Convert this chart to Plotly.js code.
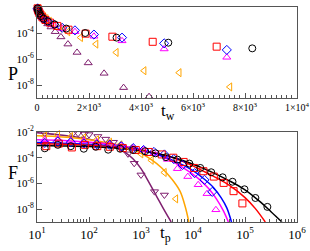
<!DOCTYPE html>
<html>
<head>
<meta charset="utf-8">
<script src="https://cdn.plot.ly/plotly-3.0.1.min.js"></script>
<style>html,body{margin:0;padding:0;background:#fff;}#c{width:310px;height:251px;}</style>
</head>
<body>
<div id="c"></div>
<script>
// ---------- top panel: P vs t_w ----------
const twBlack = [20,34,56,92,152,250,413,681,1124,1855,3060,5050,8280];
const pBlack  = [7.9e-3,6.3e-3,4.5e-3,3.2e-3,2.0e-3,1.26e-3,7.9e-4,4.5e-4,2.2e-4,1.0e-4,4.4e-5,1.8e-5,6.6e-6];
const twRed = [23,36,56,87,135,210,325,500,780,1210,1870,2900,4450,6910];
const pRed  = [7.9e-3,6.3e-3,5.0e-3,3.5e-3,2.5e-3,1.6e-3,1.0e-3,6.3e-4,3.5e-4,1.8e-4,8.9e-5,5.2e-5,2.1e-5,8.9e-6];
const twBlue = [25,38,57,85,128,190,290,430,650,970,1460,2190,3270,4890,7300];
const pBlue  = [7.9e-3,6.3e-3,5.0e-3,3.5e-3,2.5e-3,1.8e-3,1.1e-3,7.9e-4,4.5e-4,2.5e-4,1.6e-4,7.6e-5,4.4e-5,1.6e-5,5.0e-6];
const twMag = [25,38,57,85,128,190,290,430,650,970,1460,2190,3270,4890,7300];
const pMag  = [8.9e-3,7.1e-3,5.0e-3,3.5e-3,2.5e-3,1.6e-3,1.1e-3,7.1e-4,4.0e-4,2.2e-4,1.26e-4,5.6e-5,2.5e-5,5.9e-6,1.35e-6];
const twOrange = [40,55,75,100,140,190,260,355,480,650,880,1190,1680,2270,3050,4120,5470,7420];
const pOrange  = [7.9e-3,7.1e-3,5.6e-3,4.5e-3,3.5e-3,2.5e-3,1.8e-3,1.26e-3,7.9e-4,4.5e-4,2.5e-4,1.26e-4,4.5e-5,1.4e-5,3.2e-6,1.26e-7,8.9e-8,7.1e-9];
const twPurple = [15,50,65,85,110,145,190,245,320,415,540,700,920,1190,1540,1970,2580,3330,4310];
const pPurple  = [1.0e-2,7.9e-3,7.1e-3,5.6e-3,4.5e-3,3.2e-3,2.2e-3,1.4e-3,8.9e-4,5.0e-4,2.9e-4,1.26e-4,5.0e-5,1.4e-5,3.2e-6,5.0e-7,7.9e-8,6.3e-9,1.26e-9];

// ---------- bottom panel: F vs t_p (data) ----------
const tpBlack = [14.1,25.1,44.7,79.4,135,234,398,708,1202,1905,3020,5012,8511,13800,22390,37150,57540,97720,158500,269200];
const fBlack  = [5.4e-4,1.0e-3,7.9e-4,5.0e-4,7.1e-4,4.2e-4,5.0e-4,4.0e-4,3.2e-4,2.2e-4,1.1e-4,7.1e-5,3.5e-5,1.6e-5,7.4e-6,3.0e-6,1.35e-6,3.5e-7,7.4e-8,1.5e-8];
const tpRed = [15.1,26.3,46.8,83.2,144.5,251,447,794,1413,2512,4169,6607,10470,15850,25120,38900,60260,89130];
const fRed  = [7.9e-4,1.26e-3,6.3e-4,1.0e-3,7.9e-4,7.1e-4,5.6e-4,4.0e-4,2.8e-4,1.8e-4,1.0e-4,4.7e-5,1.6e-5,8.9e-6,3.4e-6,1.1e-6,2.5e-7,2.8e-8];
const tpBlue = [14.1,25.1,44.7,79.4,141,251,417,708,1122,1778,2818,4266,6310,10720,16600,23440];
const fBlue  = [1.4e-3,1.8e-3,1.6e-3,1.26e-3,1.1e-3,1.0e-3,7.9e-4,5.6e-4,4.0e-4,2.8e-4,1.8e-4,7.9e-5,2.7e-5,6.3e-6,1.9e-6,2.2e-7];
const tpMag = [14.1,25.1,44.7,79.4,141,251,417,708,1122,1778,3236,5012,7943,12590,18620,27540];
const fMag  = [2.5e-3,2.8e-3,2.2e-3,2.0e-3,1.6e-3,1.1e-3,8.9e-4,5.6e-4,4.0e-4,2.2e-4,7.4e-5,1.4e-5,3.4e-6,7.9e-7,1.6e-7,8.9e-9];
const tpOrange = [14.1,25.1,44.7,79.4,141,251,398,631,1000,1585,2818,4677];
const fOrange  = [5.0e-3,6.3e-3,4.5e-3,3.5e-3,2.5e-3,1.6e-3,1.0e-3,5.0e-4,2.0e-4,6.3e-5,7.1e-6,6.3e-8];
const tpPurple = [14.1,25.1,49,61.7,81.3,100,148,209,295,417,562,741,1000,1820,2818];
const fPurple  = [7.9e-3,1.0e-2,7.9e-3,7.9e-3,7.1e-3,6.3e-3,4.5e-3,2.8e-3,1.6e-3,7.9e-4,2.0e-4,3.7e-5,4.6e-6,2.3e-7,1.26e-7];

// ---------- bottom panel: fitted curves ----------
const fitTBlack = [10,31.6,100,316,1000,3162,7943,19950,50120,100000,199500,316200,512900];
const fitFBlack = [8.9e-4,8.3e-4,7.4e-4,5.6e-4,3.5e-4,1.4e-4,4.5e-5,1.0e-5,1.6e-6,3.2e-7,3.5e-8,6.3e-9,1.0e-9];
const fitTRed = [10,31.6,100,316,1000,3162,7943,19950,50120,100000,158500,245500];
const fitFRed = [1.2e-3,1.1e-3,9.3e-4,6.8e-4,3.8e-4,1.4e-4,3.5e-5,5.6e-6,7.1e-7,7.9e-8,1.1e-8,1.0e-9];
const fitTBlue = [10,100,316,1000,2512,6310,10000,16600,25120,34670,44670,54950];
const fitFBlue = [1.5e-3,1.1e-3,7.9e-4,4.0e-4,1.4e-4,2.8e-5,1.0e-5,2.1e-6,4.5e-7,7.9e-8,1.26e-8,1.0e-9];
const fitTMag = [10,31.6,100,316,1000,2512,6310,12590,19950,28180,38020,47860];
const fitFMag = [2.5e-3,2.2e-3,1.6e-3,1.0e-3,4.5e-4,1.26e-4,1.8e-5,2.5e-6,4.0e-7,6.3e-8,7.9e-9,1.0e-9];
const fitTOrange = [10,31.6,100,316,631,1000,1585,2512,3981,5623,7079,8318];
const fitFOrange = [5.0e-3,4.0e-3,2.5e-3,1.1e-3,5.0e-4,2.2e-4,7.1e-5,1.6e-5,2.0e-6,2.5e-7,1.6e-8,1.0e-9];
const fitTPurple = [10,31.6,100,200,316,501,708,1000,1413,1995,2818,3802];
const fitFPurple = [8.9e-3,5.6e-3,2.8e-3,1.26e-3,6.3e-4,2.5e-4,7.9e-5,1.4e-5,1.26e-6,1.0e-7,7.9e-9,1.0e-9];

// tick labels
const topXTickVals = [0,2000,4000,6000,8000,10000];
const topXTickText = ['0','2×10<sup>3</sup>','4×10<sup>3</sup>','6×10<sup>3</sup>','8×10<sup>3</sup>','1×10<sup>4</sup>'];
const yTickVals = [1e-2,1e-4,1e-6,1e-8];
const yTickText = ['10<sup>-2</sup>','10<sup>-4</sup>','10<sup>-6</sup>','10<sup>-8</sup>'];
const botXTickVals = [1e1,1e2,1e3,1e4,1e5,1e6];
const botXTickText = ['10<sup>1</sup>','10<sup>2</sup>','10<sup>3</sup>','10<sup>4</sup>','10<sup>5</sup>','10<sup>6</sup>'];

const C = {black:'#000000', red:'#ff0000', blue:'#0000ff', mag:'#ff00ff', orange:'#ffa500', purple:'#7f1f6f'};

function pts(x, y, color, symbol, xa, ya, size) {
  return {x:x, y:y, mode:'markers', type:'scatter', xaxis:xa, yaxis:ya, cliponaxis:false,
    marker:{symbol:symbol, size:size||7, color:color, line:{color:color, width:1}}, hoverinfo:'skip'};
}
function fit(x, y, color) {
  return {x:x, y:y, mode:'lines', type:'scatter', xaxis:'x2', yaxis:'y2',
    line:{color:color, width:1.5, shape:'spline'}, hoverinfo:'skip'};
}

const traces = [
  pts(twPurple,pPurple,C.purple,'triangle-up-open','x','y'),
  pts(twOrange,pOrange,C.orange,'triangle-left-open','x','y'),
  pts(twMag,pMag,C.mag,'triangle-up-open','x','y'),
  pts(twBlue,pBlue,C.blue,'diamond-open','x','y'),
  pts(twRed,pRed,C.red,'square-open','x','y'),
  pts(twBlack,pBlack,C.black,'circle-open','x','y'),

  fit(fitTPurple,fitFPurple,C.purple),
  fit(fitTOrange,fitFOrange,C.orange),
  fit(fitTMag,fitFMag,C.mag),
  fit(fitTBlue,fitFBlue,C.blue),
  fit(fitTRed,fitFRed,C.red),
  fit(fitTBlack,fitFBlack,C.black),
  pts(tpPurple,fPurple,C.purple,'triangle-down-open','x2','y2'),
  pts(tpOrange,fOrange,C.orange,'triangle-left-open','x2','y2'),
  pts(tpMag,fMag,C.mag,'triangle-up-open','x2','y2'),
  pts(tpBlue,fBlue,C.blue,'diamond-open','x2','y2'),
  pts(tpRed,fRed,C.red,'square-open','x2','y2'),
  pts(tpBlack,fBlack,C.black,'circle-open','x2','y2')
];

const axLine = '#555';
const serif = 'Liberation Serif, Times New Roman, serif';
const layout = {
  width:310, height:251,
  margin:{l:37, r:13, t:7, b:29},
  paper_bgcolor:'#fff', plot_bgcolor:'#fff',
  showlegend:false,
  font:{family:serif, color:'#000'},
  xaxis:{domain:[0,1], anchor:'y', range:[0,10000], showgrid:false, zeroline:false,
    showline:true, linecolor:axLine, linewidth:1, mirror:true,
    ticks:'inside', ticklen:5, tickcolor:axLine, tickvals:topXTickVals, ticktext:topXTickText,
    tickfont:{size:10, family:serif}, minor:{ticks:'inside', ticklen:3, dtick:200, tickcolor:axLine}},
  yaxis:{domain:[0.5767,1], anchor:'x', type:'log', range:[-9,-2], showgrid:false, zeroline:false,
    showline:true, linecolor:axLine, linewidth:1, mirror:true,
    ticks:'inside', ticklen:5, tickcolor:axLine, tickvals:yTickVals, ticktext:yTickText,
    tickfont:{size:11, family:serif}},
  xaxis2:{domain:[0,1], anchor:'y2', type:'log', range:[1,6], showgrid:false, zeroline:false,
    showline:true, linecolor:axLine, linewidth:1, mirror:true,
    ticks:'inside', ticklen:5, tickcolor:axLine, tickvals:botXTickVals, ticktext:botXTickText,
    tickfont:{size:13, family:serif}, minor:{ticks:'inside', ticklen:3, tickcolor:axLine, dtick:'D1'}},
  yaxis2:{domain:[0,0.4186], anchor:'x2', type:'log', range:[-9,-2], showgrid:false, zeroline:false,
    showline:true, linecolor:axLine, linewidth:1, mirror:true,
    ticks:'inside', ticklen:5, tickcolor:axLine, tickvals:yTickVals, ticktext:yTickText,
    tickfont:{size:11, family:serif}},
  annotations:[
    {text:'P', xref:'paper', yref:'paper', x:-0.12, y:0.744, showarrow:false, font:{size:18, family:serif}},
    {text:'F', xref:'paper', yref:'paper', x:-0.12, y:0.172, showarrow:false, font:{size:18, family:serif}},
    {text:'t<sub>w</sub>', xref:'paper', yref:'paper', x:0.504, y:0.51, showarrow:false, font:{size:17, family:serif}},
    {text:'t<sub>p</sub>', xref:'paper', yref:'paper', x:0.496, y:-0.115, showarrow:false, font:{size:17, family:serif}}
  ]
};
Plotly.newPlot('c', traces, layout, {staticPlot:true, displayModeBar:false});
</script>
</body>
</html>
